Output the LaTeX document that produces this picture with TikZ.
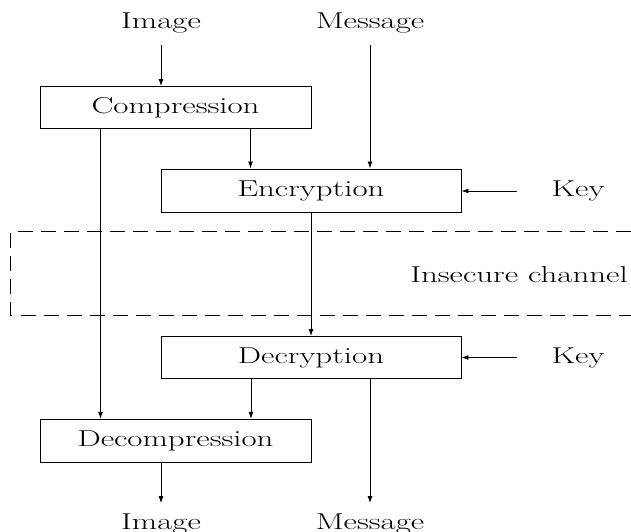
\documentclass[tikz,border=0pt]{standalone}
\usepackage{graphicx}
\usepackage{tikz}
\usetikzlibrary{calc,arrows.meta}

\newcommand{\widetxt}[1]{\scalebox{1.43}[1]{#1}}

\begin{document}
\begin{tikzpicture}[x=1pt,y=-1pt,
    every node/.style={font=\fontsize{23}{27}\selectfont, inner sep=4pt},
    blk/.style={draw, line width=0.9pt, inner sep=0pt, minimum height=42pt},
    arr/.style={line width=0.9pt, -{Latex[length=7pt,width=5pt]}},
    chan/.style={line width=0.9pt, dash pattern=on 15pt off 8pt}]
        \pgfmathsetmacro{\cw}{271}
        \pgfmathsetmacro{\ew}{300}
        \useasboundingbox (0,0) rectangle (631,532);
        % labels
        \node (img_in) [anchor=base] at (161,28.5) {\widetxt{Image}};
        \node (msg_in) [anchor=base] at (370,28.5) {\widetxt{Message}};
        \node (img_out) [anchor=base] at (161,529) {\widetxt{Image}};
        \node (msg_out) [anchor=base] at (370,529) {\widetxt{Message}};
        \node (key1) at (578,191) {\widetxt{Key}};
        \node (key2) at (578,357.5) {\widetxt{Key}};
        \node (chan_lbl) [anchor=base] at (519,282) {\widetxt{Insecure channel}};
        % blocks
        \node (comp) [blk, minimum width=\cw] at (175.5,107.5) {\widetxt{Compression}};
        \node (enc) [blk, minimum width=\ew, minimum height=43.5pt] at (311,190.7) {\widetxt{Encryption}};
        \node (dec) [blk, minimum width=\ew] at (311,357.5) {\widetxt{Decryption}};
        \node (decomp) [blk, minimum width=\cw, minimum height=43pt] at (175.5,440.8) {\widetxt{Decompression}};
        % channel
        \draw[chan] (631,231.7) -- (10.9,231.7) -- (10.9,315) -- (631,315);
        % connections
        \draw[arr, shorten <=8pt] (img_in.south) -- (img_in.south |- comp.north);
        \draw[arr, shorten <=8pt] (msg_in.south) -- (msg_in.south |- enc.north);
        \draw[arr] ([xshift=75pt]comp.south) -- ([xshift=75pt]comp.south |- enc.north);
        \draw[arr] ([xshift=-75pt]comp.south) -- ([xshift=-75pt]comp.south |- decomp.north);
        \draw[arr, shorten <=30pt] (key1.west) -- (key1.west -| enc.east);
        \draw[arr] (enc.south) -- (dec.north);
        \draw[arr, shorten <=30pt] (key2.west) -- (key2.west -| dec.east);
        \draw[arr] ([xshift=-60pt]dec.south) -- ([xshift=-60pt]dec.south |- decomp.north);
        \draw[arr, shorten >=6pt] (dec.south -| msg_out) -- (msg_out.north);
        \draw[arr, shorten >=6pt] (decomp.south -| img_out) -- (img_out.north);
    \end{tikzpicture}
\end{document}
